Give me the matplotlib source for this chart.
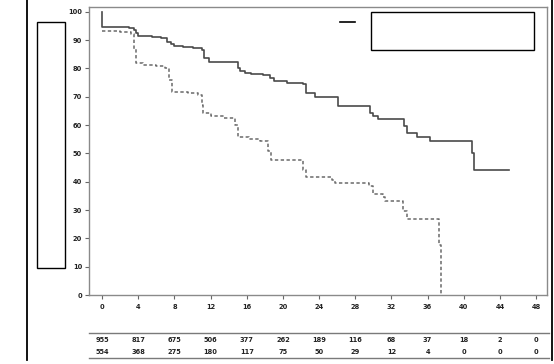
import numpy as np
import matplotlib
matplotlib.use('Agg')
import matplotlib.pyplot as plt
from matplotlib.lines import Line2D
from matplotlib.patches import Rectangle
import matplotlib.transforms as mtransforms

# survival curves (months, %)
solid_t = [0, 0, 1.5, 3.0, 3.5, 3.8, 4.0, 5.5, 6.5, 7.2, 7.6, 8.0, 9.0, 10.0, 11.0,
           11.3, 11.8, 15.0, 15.3, 15.8, 16.5, 17.8, 18.6, 19.0, 20.5, 22.2, 22.5,
           23.5, 26.1, 29.6, 30.0, 30.5, 33.4, 33.7, 34.8, 36.3, 40.9, 41.1, 45.0]
solid_s = [100, 94.7, 94.5, 94.2, 93.5, 92.5, 91.5, 91.0, 90.6, 89.5, 88.8, 88.0, 87.6, 87.2, 86.6,
           83.8, 82.4, 80.0, 79.0, 78.5, 78.2, 77.8, 76.5, 75.6, 75.0, 74.5, 71.2,
           69.8, 66.7, 64.3, 63.1, 62.3, 59.6, 57.2, 55.8, 54.3, 50.0, 44.3, 44.3]

dash_t = [0, 2.0, 3.2, 3.5, 3.7, 4.5, 6.0, 7.0, 7.4, 7.7, 9.5, 10.6, 11.0, 11.2, 12.0,
          13.5, 14.7, 15.0, 16.2, 17.5, 18.3, 18.7, 22.2, 22.6, 25.4, 25.8, 29.5, 30.0,
          31.1, 31.3, 33.3, 33.7, 37.3, 37.5]
dash_s = [93.3, 92.8, 92.2, 87.0, 82.0, 81.3, 80.8, 80.0, 76.0, 71.8, 71.3, 70.6, 67.0, 64.2, 63.2,
          62.5, 60.0, 55.8, 55.0, 54.3, 51.0, 47.6, 44.0, 41.6, 40.5, 39.6, 38.5, 35.8,
          34.5, 33.1, 29.5, 26.7, 17.6, 0.0]

xticks = list(range(0, 49, 4))
yticks = list(range(0, 101, 10))
risk_row1 = [955, 817, 675, 506, 377, 262, 189, 116, 68, 37, 18, 2, 0]
risk_row2 = [554, 368, 275, 180, 117, 75, 50, 29, 12, 4, 0, 0, 0]

W, H = 554, 364
fig = plt.figure(figsize=(W / 100, H / 100), dpi=100)

def px(x, y):
    return x / W, 1 - y / H

ax = fig.add_axes([89 / W, 1 - 295 / H, (547 - 89) / W, (295 - 7) / H])
ax.plot(solid_t, solid_s, drawstyle='steps-post', color='#4a4a4a', lw=1.2)
ax.plot(dash_t, dash_s, drawstyle='steps-post', color='#6a6a6a', lw=1.1,
        linestyle=(0, (2.2, 1.6)))
ax.set_xlim(-1.45, 49.2)
ax.set_ylim(0, 101.7)
ax.set_xticks(xticks)
ax.set_yticks(yticks)
for s in ax.spines.values():
    s.set_color('#8a8a8a')
    s.set_linewidth(1.0)
ax.tick_params(length=3, width=0.8, color='#666666', labelsize=4.8, pad=2)
ax.tick_params(axis='x', pad=3.5)
for lab in ax.get_xticklabels() + ax.get_yticklabels():
    lab.set_fontweight('bold')
    lab.set_color('#222222')

# numbers at risk table
trans = mtransforms.blended_transform_factory(ax.transData, fig.transFigure)
for t, a, b in zip(xticks, risk_row1, risk_row2):
    fig.text(t, 1 - 340 / H, str(a), transform=trans, ha='center', va='center',
             fontsize=4.8, fontweight='bold', color='#222222')
    fig.text(t, 1 - 351.5 / H, str(b), transform=trans, ha='center', va='center',
             fontsize=4.8, fontweight='bold', color='#222222')
for yy in (333, 358):
    fig.add_artist(Line2D([89 / W, 549 / W], [1 - yy / H] * 2, color='#7a7a7a', lw=1.0))

# page frame lines and empty boxes
fig.add_artist(Line2D([27 / W] * 2, [1, 1 - 360 / H], color='black', lw=1.3))
fig.add_artist(Line2D([551.5 / W] * 2, [1, 1 - 360 / H], color='black', lw=1.3))
fig.add_artist(Rectangle(px(37, 268), 28 / W, 246 / H, fill=True, facecolor='white',
                         edgecolor='black', lw=1.0))
fig.add_artist(Rectangle(px(371, 50), 163 / W, 38 / H, fill=True, facecolor='white',
                         edgecolor='black', lw=1.0))
fig.add_artist(Line2D([340 / W, 355 / W], [1 - 22 / H] * 2, color='black', lw=1.2))

fig.savefig('out.png', dpi=100)
